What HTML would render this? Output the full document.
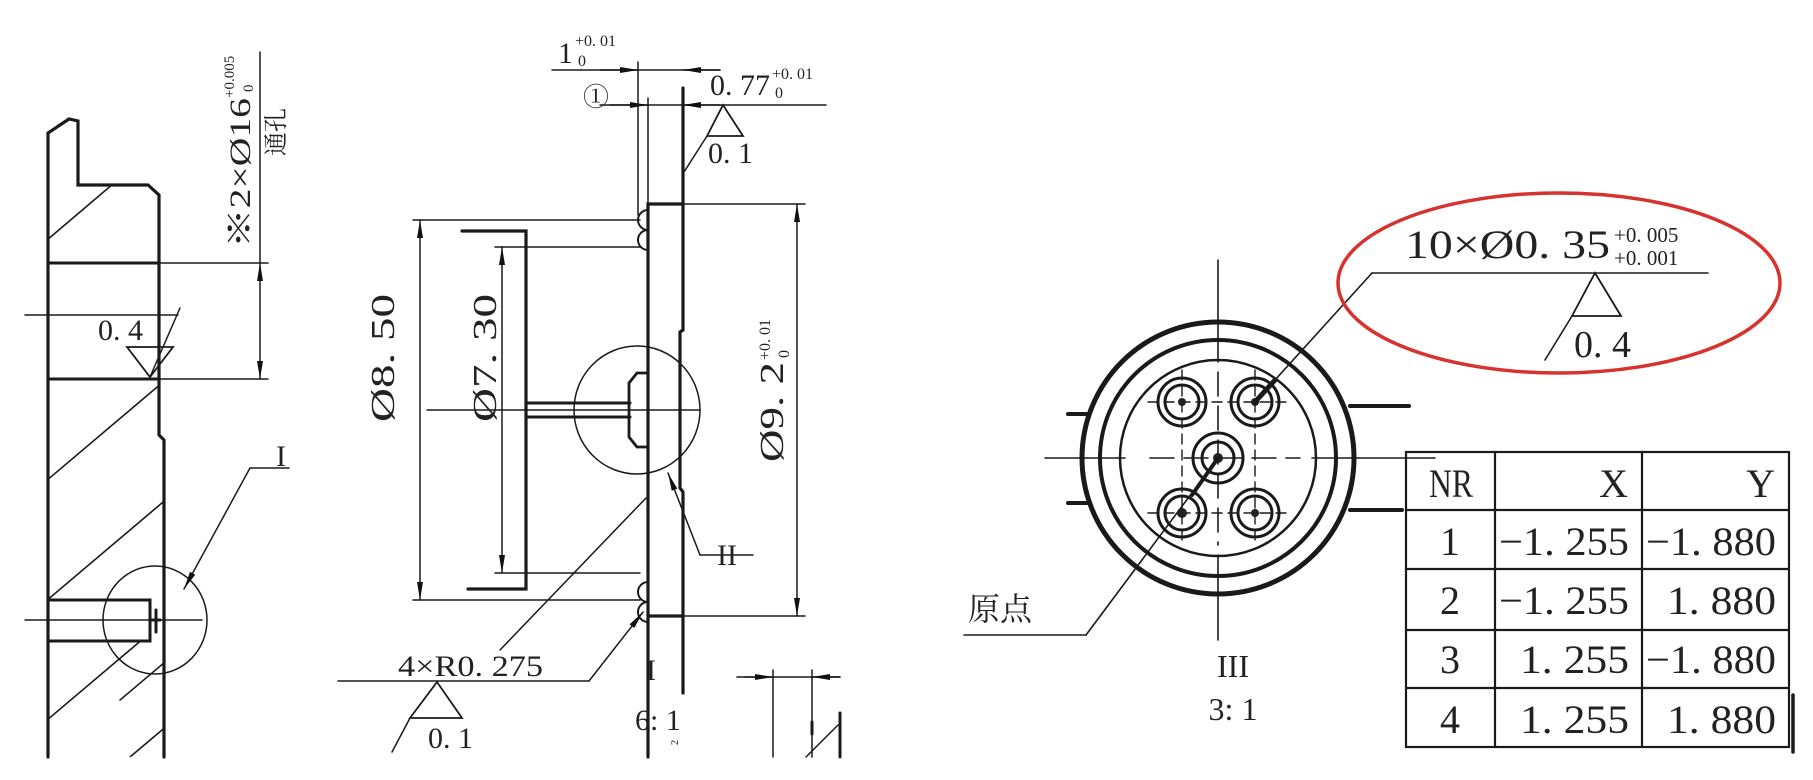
<!DOCTYPE html>
<html><head><meta charset="utf-8"><style>
html,body{margin:0;padding:0;background:#fff;width:1813px;height:780px;overflow:hidden;}
svg{display:block;position:absolute;left:0;top:0;}
text{font-family:"Liberation Serif","Noto Serif CJK SC",serif;fill:#222;}
</style></head><body>
<svg width="1813" height="780" viewBox="0 0 1813 780" xmlns="http://www.w3.org/2000/svg">
<defs>
<marker id="a" viewBox="0 0 18 6" refX="18" refY="3" markerWidth="18" markerHeight="6" markerUnits="userSpaceOnUse" orient="auto-start-reverse"><path d="M0,0 L18,3 L0,6 Z" fill="#111"/></marker>
<clipPath id="sec"><path d="M48,757 L48,133 L69,119 L78,121 L78,185 L148,185 L159,195 L159,263 L48,263 L48,379 L159,379 L159,435 L164,440 L164,600 L48,600 L48,641 L164,641 L164,757 Z"/></clipPath>
</defs>
<g stroke="#1a1a1a" fill="none" stroke-linecap="round">
<g clip-path="url(#sec)" stroke-width="1.6">
<line x1="0" y1="280" x2="200" y2="110"/>
<line x1="0" y1="400" x2="220" y2="215"/>
<line x1="0" y1="520" x2="260" y2="300"/>
<line x1="0" y1="640" x2="260" y2="420"/>
<line x1="40" y1="726" x2="260" y2="540"/>
<line x1="130" y1="757" x2="200" y2="698"/>
</g>
<path d="M48,757 L48,133 L69,119 L78,121 L78,185 L148,185 L159,195 L159,435 L164,440 L164,757" stroke-width="3.2"/>
<line x1="48" y1="263" x2="159" y2="263" stroke-width="3"/>
<line x1="48" y1="379" x2="159" y2="379" stroke-width="3"/>
<line x1="159" y1="263" x2="268" y2="263" stroke-width="1.5"/>
<line x1="159" y1="379" x2="268" y2="379" stroke-width="1.5"/>
<line x1="260" y1="52" x2="260" y2="263" stroke-width="1.5"/>
<line x1="260" y1="263" x2="260" y2="379" stroke-width="1.5" marker-start="url(#a)" marker-end="url(#a)"/>
<line x1="25" y1="315" x2="178" y2="315" stroke-width="1.5"/>
<path d="M127,347 L173,347 L150,377 Z" stroke-width="1.8"/>
<line x1="150" y1="377" x2="180" y2="308" stroke-width="1.5"/>
<path d="M48,600 L150,600 L150,641 L48,641" stroke-width="3"/>
<line x1="25" y1="620" x2="202" y2="620" stroke-width="1.5"/>
<path d="M150,620 L160,620 M156,610 L156,632" stroke-width="3"/>
<ellipse cx="155" cy="620" rx="52" ry="54" stroke-width="1.5"/>
<path d="M250,468 L289,468" stroke-width="1.5"/>
<line x1="250" y1="468" x2="184" y2="589" stroke-width="1.5" marker-end="url(#a)"/>
<line x1="165" y1="662" x2="120" y2="700" stroke-width="1.5"/>

<line x1="552" y1="70" x2="720" y2="70" stroke-width="1.5"/>
<line x1="600" y1="70" x2="638" y2="70" stroke-width="1.5" marker-end="url(#a)"/>
<line x1="720" y1="70" x2="683" y2="70" stroke-width="1.5" marker-end="url(#a)"/>
<line x1="600" y1="105" x2="826" y2="105" stroke-width="1.5"/>
<line x1="610" y1="105" x2="648" y2="105" stroke-width="1.5" marker-end="url(#a)"/>
<line x1="720" y1="105" x2="683" y2="105" stroke-width="1.5" marker-end="url(#a)"/>
<line x1="638" y1="62" x2="638" y2="215" stroke-width="1.5"/>
<line x1="648" y1="98" x2="648" y2="205" stroke-width="1.5"/>
<path d="M648,757 L648,204 L683,204" stroke-width="3.2"/>
<line x1="683" y1="88" x2="683" y2="330" stroke-width="3.2"/>
<path d="M683,330 L680,332 L680,488 L683,492 L683,693" stroke-width="3.2"/>
<path d="M648,616 L683,616" stroke-width="3.2"/>
<line x1="683" y1="204" x2="805" y2="204" stroke-width="1.5"/>
<line x1="683" y1="616" x2="805" y2="616" stroke-width="1.5"/>
<line x1="797" y1="204" x2="797" y2="616" stroke-width="1.5" marker-start="url(#a)" marker-end="url(#a)"/>
<path d="M648,210 A10,10 0 0 0 648,230 A10,10 0 0 0 648,250 M648,582 A10,10 0 0 0 648,602 A10,10 0 0 0 648,622" stroke-width="2"/>
<line x1="413" y1="220" x2="640" y2="220" stroke-width="1.5"/>
<line x1="413" y1="600" x2="640" y2="600" stroke-width="1.5"/>
<line x1="420" y1="220" x2="420" y2="600" stroke-width="1.5" marker-start="url(#a)" marker-end="url(#a)"/>
<line x1="495" y1="247" x2="640" y2="247" stroke-width="1.5"/>
<line x1="495" y1="573" x2="640" y2="573" stroke-width="1.5"/>
<line x1="502" y1="247" x2="502" y2="573" stroke-width="1.5" marker-start="url(#a)" marker-end="url(#a)"/>
<path d="M462,231 L526,231 L526,589 L468,589" stroke-width="3.2"/>
<line x1="526" y1="403" x2="630" y2="403" stroke-width="3"/>
<line x1="526" y1="417" x2="630" y2="417" stroke-width="3"/>
<path d="M648,373 L637,373 L629,383 L629,437 L637,447 L648,447" stroke-width="2.8"/>
<line x1="427" y1="410" x2="700" y2="410" stroke-width="1.5"/>
<ellipse cx="637" cy="410" rx="63" ry="64" stroke-width="1.5"/>
<line x1="700" y1="555" x2="668" y2="473" stroke-width="1.5" marker-end="url(#a)"/>
<line x1="700" y1="555" x2="753" y2="555" stroke-width="1.5"/>
<path d="M707,136 L723,105 L743,136 Z" stroke-width="1.8"/>
<line x1="707" y1="136" x2="684" y2="172" stroke-width="1.5"/>
<line x1="338" y1="681" x2="589" y2="681" stroke-width="1.5"/>
<line x1="589" y1="681" x2="643" y2="612" stroke-width="1.5" marker-end="url(#a)"/>
<line x1="500" y1="650" x2="646" y2="498" stroke-width="1.5"/>
<path d="M410,718 L437,682 L462,718 Z" stroke-width="1.8"/>
<line x1="410" y1="718" x2="392" y2="752" stroke-width="1.5"/>
<line x1="737" y1="677" x2="840" y2="677" stroke-width="1.5"/>
<line x1="745" y1="677" x2="773" y2="677" stroke-width="1.5" marker-end="url(#a)"/>
<line x1="840" y1="677" x2="812" y2="677" stroke-width="1.5" marker-end="url(#a)"/>
<line x1="773" y1="670" x2="773" y2="757" stroke-width="1.5"/>
<line x1="812" y1="670" x2="812" y2="757" stroke-width="1.5"/>
<line x1="812" y1="722" x2="812" y2="734" stroke-width="3"/>
<line x1="840" y1="713" x2="840" y2="757" stroke-width="3"/>
<line x1="806" y1="757" x2="838" y2="725" stroke-width="1.5"/>

<circle cx="1218" cy="458" r="136" stroke-width="5"/>
<circle cx="1218" cy="458" r="118" stroke-width="4"/>
<circle cx="1218" cy="458" r="98" stroke-width="2.5"/>
<line x1="1218" y1="260" x2="1218" y2="362" stroke-width="1.6"/>
<line x1="1218" y1="372" x2="1218" y2="545" stroke-width="1.6" stroke-dasharray="24,10"/>
<line x1="1218" y1="555" x2="1218" y2="640" stroke-width="1.6"/>
<line x1="1045" y1="458" x2="1125" y2="458" stroke-width="1.6"/>
<line x1="1150" y1="458" x2="1300" y2="458" stroke-width="1.6" stroke-dasharray="24,10"/>
<line x1="1312" y1="458" x2="1435" y2="458" stroke-width="1.6"/>
<line x1="1068" y1="414" x2="1087" y2="414" stroke-width="4"/>
<line x1="1068" y1="503" x2="1087" y2="503" stroke-width="4"/>
<line x1="1350" y1="406" x2="1409" y2="406" stroke-width="4"/>
<line x1="1350" y1="510" x2="1402" y2="510" stroke-width="4"/>
<g stroke-width="3">
<circle cx="1182" cy="402" r="24"/><circle cx="1182" cy="402" r="17"/>
<circle cx="1255" cy="402" r="24"/><circle cx="1255" cy="402" r="17"/>
<circle cx="1218" cy="458" r="25"/><circle cx="1218" cy="458" r="16"/>
<circle cx="1182" cy="513" r="24"/><circle cx="1182" cy="513" r="17"/>
<circle cx="1255" cy="513" r="24"/><circle cx="1255" cy="513" r="17"/>
</g>
<g stroke-width="1.4" stroke-dasharray="10,6">
<line x1="1148" y1="402" x2="1290" y2="402"/><line x1="1148" y1="513" x2="1290" y2="513"/>
<line x1="1182" y1="370" x2="1182" y2="545"/><line x1="1255" y1="370" x2="1255" y2="545"/>
</g>
<g fill="#222" stroke="none">
<circle cx="1182" cy="402" r="4"/><circle cx="1255" cy="402" r="4"/><circle cx="1218" cy="458" r="5"/><circle cx="1182" cy="513" r="5"/><circle cx="1255" cy="513" r="4"/>
</g>
<line x1="1255" y1="402" x2="1372" y2="273" stroke-width="1.6"/>
<line x1="1255" y1="402" x2="1275" y2="380" stroke-width="5"/>
<line x1="1372" y1="273" x2="1708" y2="273" stroke-width="1.6"/>
<path d="M1572,316 L1595,273 L1621,316 Z" stroke-width="1.8"/>
<line x1="1572" y1="316" x2="1545" y2="360" stroke-width="1.6"/>
<line x1="1218" y1="458" x2="1086" y2="635" stroke-width="1.6"/>
<line x1="1218" y1="458" x2="1192" y2="495" stroke-width="4"/>
<line x1="964" y1="635" x2="1086" y2="635" stroke-width="1.6"/>
<ellipse cx="1559" cy="283" rx="221" ry="90" stroke="#d7322e" stroke-width="3.5"/>

<g stroke-width="2.2">
<rect x="1406" y="452" width="383" height="295"/>
<line x1="1495" y1="452" x2="1495" y2="747"/>
<line x1="1642" y1="452" x2="1642" y2="747"/>
<line x1="1406" y1="510" x2="1789" y2="510"/>
<line x1="1406" y1="569" x2="1789" y2="569"/>
<line x1="1406" y1="630" x2="1789" y2="630"/>
<line x1="1406" y1="688" x2="1789" y2="688"/>
</g>
<line x1="1793" y1="695" x2="1793" y2="752" stroke-width="3.5"/>
</g>

<g font-size="30">
<text transform="translate(250,248) rotate(-90)" font-size="30" textLength="150" lengthAdjust="spacingAndGlyphs">※2×Ø16</text>
<text transform="translate(234,98) rotate(-90)" font-size="15">+0.005</text>
<text transform="translate(253,92) rotate(-90)" font-size="15">0</text>
<text transform="translate(284,156) rotate(-90)" font-size="24">通孔</text>
<text x="98" y="340" font-size="30">0. 4</text>
<text x="276" y="466" font-size="30">I</text>

<text x="558" y="63" font-size="30">1</text>
<text x="575" y="46" font-size="16">+0. 01</text>
<text x="578" y="66" font-size="16">0</text>
<text x="583" y="106" font-size="26">①</text>
<text x="710" y="95" font-size="30">0. 77</text>
<text x="772" y="79" font-size="16">+0. 01</text>
<text x="775" y="98" font-size="16">0</text>
<text x="708" y="163" font-size="30">0. 1</text>
<text transform="translate(394,422) rotate(-90)" font-size="34" textLength="128" lengthAdjust="spacingAndGlyphs">Ø8. 50</text>
<text transform="translate(496,422) rotate(-90)" font-size="34" textLength="128" lengthAdjust="spacingAndGlyphs">Ø7. 30</text>
<text transform="translate(783,462) rotate(-90)" font-size="34" textLength="100" lengthAdjust="spacingAndGlyphs">Ø9. 2</text>
<text transform="translate(770,360) rotate(-90)" font-size="16">+0. 01</text>
<text transform="translate(789,358) rotate(-90)" font-size="16">0</text>
<text x="717" y="565" font-size="30">II</text>
<text x="398" y="676" font-size="30" textLength="145" lengthAdjust="spacingAndGlyphs">4×R0. 275</text>
<text x="428" y="748" font-size="30">0. 1</text>
<text x="646" y="680" font-size="30">I</text>
<text x="635" y="730" font-size="30">6: 1</text>
<text transform="translate(678,745) rotate(-90)" font-size="10">2</text>

<text x="1405" y="258" font-size="40" textLength="205" lengthAdjust="spacingAndGlyphs">10×Ø0. 35</text>
<text x="1614" y="242" font-size="21">+0. 005</text>
<text x="1614" y="265" font-size="21">+0. 001</text>
<text x="1574" y="357" font-size="38">0. 4</text>
<text x="968" y="620" font-size="32" font-family="Noto Sans CJK SC, sans-serif">原点</text>
<text x="1233" y="677" font-size="32" text-anchor="middle">III</text>
<text x="1233" y="720" font-size="32" text-anchor="middle">3: 1</text>

<g font-size="40">
<text x="1429" y="497" textLength="44" lengthAdjust="spacingAndGlyphs">NR</text>
<text x="1628" y="497" text-anchor="end">X</text>
<text x="1775" y="497" text-anchor="end">Y</text>
<text x="1450" y="555" text-anchor="middle">1</text>
<text x="1450" y="614" text-anchor="middle">2</text>
<text x="1450" y="673" text-anchor="middle">3</text>
<text x="1450" y="733" text-anchor="middle">4</text>
<text x="1499" y="555" textLength="130" lengthAdjust="spacingAndGlyphs">−1. 255</text>
<text x="1499" y="614" textLength="130" lengthAdjust="spacingAndGlyphs">−1. 255</text>
<text x="1520" y="673" textLength="109" lengthAdjust="spacingAndGlyphs">1. 255</text>
<text x="1520" y="733" textLength="109" lengthAdjust="spacingAndGlyphs">1. 255</text>
<text x="1646" y="555" textLength="130" lengthAdjust="spacingAndGlyphs">−1. 880</text>
<text x="1667" y="614" textLength="109" lengthAdjust="spacingAndGlyphs">1. 880</text>
<text x="1646" y="673" textLength="130" lengthAdjust="spacingAndGlyphs">−1. 880</text>
<text x="1667" y="733" textLength="109" lengthAdjust="spacingAndGlyphs">1. 880</text>
</g>
</g>
</svg>
</body></html>
